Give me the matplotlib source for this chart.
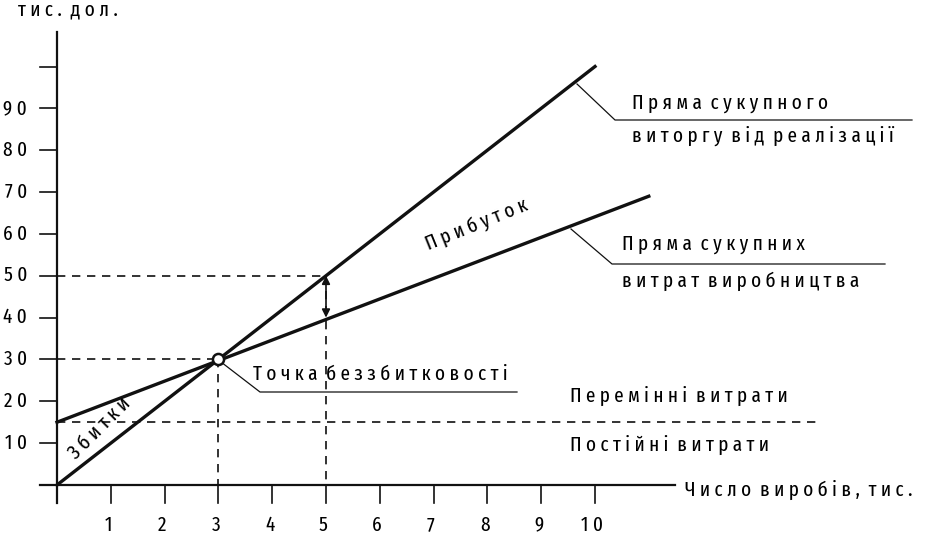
import matplotlib.pyplot as plt

# Data
revenue_x = [0, 10]
revenue_y = [0, 100]
cost_x = [0, 11]
cost_y = [15, 69]
fixed_cost = 15
fixed_x_end = 14.1
breakeven = (3, 30)
profit_point = (5, 50, 40)
x_ticks = [1, 2, 3, 4, 5, 6, 7, 8, 9, 10]
y_ticks = [10, 20, 30, 40, 50, 60, 70, 80, 90, 100]
y_labels = ["10", "20", "30", "40", "50", "60", "70", "80", "90", ""]
x_labels = ["1", "2", "3", "4", "5", "6", "7", "8", "9", "10"]

FONT = ["Fira Sans Extra Condensed", "PT Sans Narrow", "Roboto Condensed", "DejaVu Sans"]


def spaced(s, word_gap=2):
    # letter-spaced text, as in the original drawing
    return (" " * word_gap).join(" ".join(w) for w in s.split(" "))


fig = plt.figure(figsize=(9.28, 5.39), dpi=100)
ax = fig.add_axes([0, 0, 1, 1])
# pixel mapping: x_px = 57 + 53.8*x, y_px = 485 - 4.185*y
sx, sy = 53.8, 4.185
ax.set_xlim(-57 / sx, (928 - 57) / sx)
ax.set_ylim(-(539 - 485) / sy, 485 / sy)
ax.axis("off")


def px(x):
    return (x - 57) / sx


def py(y):
    return (485 - y) / sy


k = "#111111"
tick_x = 17 / sx
tick_y = 18 / sy
txt = dict(family=FONT, color="black", fontweight="normal")
fs = 15

# axes
ax.plot([-tick_x, px(675)], [0, 0], color=k, lw=1.6)
ax.plot([0, 0], [-tick_y, py(32)], color=k, lw=1.6)
for v in y_ticks:
    ax.plot([-tick_x, 0], [v, v], color=k, lw=1.2)
for v in x_ticks:
    ax.plot([v, v], [0, -tick_y], color=k, lw=1.2)

for v, lab in zip(y_ticks, y_labels):
    ax.text(px(27), v, spaced(lab), ha="right", va="center", fontsize=fs, **txt)
for v, lab in zip(x_ticks, x_labels):
    ax.text(v - 0.05, py(525), spaced(lab), ha="center", va="center", fontsize=fs, **txt)

ax.text(px(18), py(10), spaced("тис. дол.", 2), ha="left", va="center", fontsize=fs, **txt)
ax.text(px(685), py(490), spaced("Число виробів, тис.", 2), ha="left", va="center",
        fontsize=fs, **txt)

# main lines
ax.plot(revenue_x, revenue_y, color=k, lw=2.4)
ax.plot(cost_x, cost_y, color=k, lw=2.4)

# dashed helpers
dash = dict(color=k, lw=1.2, ls=(0, (5, 4)))
ax.plot([0, fixed_x_end], [fixed_cost, fixed_cost], **dash)
bx, by = breakeven
ax.plot([0, bx], [by, by], **dash)
ax.plot([bx, bx], [by, 0], **dash)
qx, rev5, cost5 = profit_point
ax.plot([0, qx], [rev5, rev5], **dash)
ax.plot([qx, qx], [rev5, 0], **dash)

# profit arrow
ax.annotate("", xy=(qx, cost5), xytext=(qx, rev5),
            arrowprops=dict(arrowstyle="<|-|>", color=k, lw=1.2, mutation_scale=12,
                            shrinkA=0, shrinkB=0))

# break-even marker
ax.plot([bx], [by], "o", ms=8, mfc="white", mec=k, mew=1.8, zorder=5)

# leader lines and labels
thin = dict(color=k, lw=0.9)
ax.plot([px(577), px(615), px(912)], [py(84), py(120), py(120)], **thin)
ax.text(px(632), py(103), spaced("Пряма сукупного", 2), ha="left", va="center",
        fontsize=fs, **txt)
ax.text(px(632), py(136), spaced("виторгу від реалізації", 2), ha="left", va="center",
        fontsize=fs, **txt)

ax.plot([px(571), px(612), px(885)], [py(229), py(264), py(264)], **thin)
ax.text(px(622), py(244), spaced("Пряма сукупних", 2), ha="left", va="center",
        fontsize=fs, **txt)
ax.text(px(622), py(281), spaced("витрат виробництва", 2), ha="left", va="center",
        fontsize=fs, **txt)

ax.plot([px(221), px(260), px(517)], [py(362), py(392), py(392)], **thin)
ax.text(px(253), py(374), spaced("Точка беззбитковості", 2), ha="left", va="center",
        fontsize=fs, **txt)

ax.text(px(570), py(396), spaced("Перемінні витрати", 2), ha="left", va="center",
        fontsize=fs, **txt)
ax.text(px(570), py(445), spaced("Постійні витрати", 2), ha="left", va="center",
        fontsize=fs, **txt)

ax.text(px(477), py(225), spaced("Прибуток"), ha="center", va="center",
        rotation=22, rotation_mode="anchor", fontsize=fs, **txt)
ax.text(px(100), py(428), spaced("Збитки"), ha="center", va="center",
        rotation=45, rotation_mode="anchor", fontsize=fs, **txt)

fig.savefig("out.png", dpi=100)
